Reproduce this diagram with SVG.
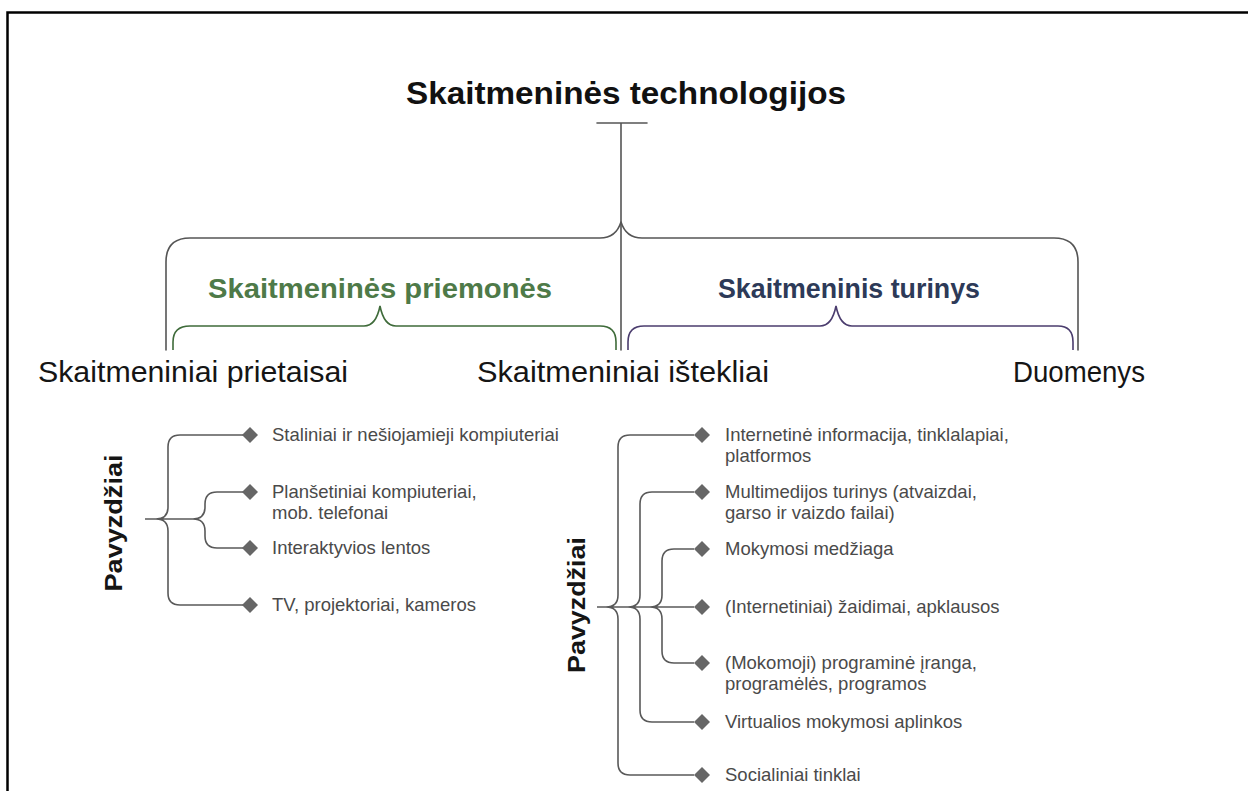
<svg xmlns="http://www.w3.org/2000/svg" width="1248" height="791" viewBox="0 0 1248 791">
  <style>
    .frame { stroke: #000; stroke-width: 2.5; fill: none; }
    .brace { fill: none; stroke: #555; stroke-width: 1.6; stroke-linecap: round; stroke-linejoin: round; }
    .brace-green { fill: none; stroke: #3f6b3a; stroke-width: 1.6; }
    .brace-purple { fill: none; stroke: #4b3d6e; stroke-width: 1.6; }
    .branch { fill: none; stroke: #595959; stroke-width: 1.6; }
    .dot { fill: #666; }
    .title { font-family: "Liberation Sans", Arial, sans-serif; font-weight: bold; font-size: 32px; fill: #111; }
    .group { font-family: "Liberation Sans", Arial, sans-serif; font-weight: bold; font-size: 28px; }
    .label { font-family: "Liberation Sans", Arial, sans-serif; font-size: 30px; fill: #151515; }
    .side { font-family: "Liberation Sans", Arial, sans-serif; font-weight: bold; font-size: 24px; fill: #151515; }
    .item { font-family: "Liberation Sans", Arial, sans-serif; font-size: 18.5px; fill: #4a4a4a; }
  </style>

  <rect x="0" y="0" width="1248" height="791" fill="#fff"/>
  <path class="frame" d="M7.5 791 V12.5 H1248"/>

  <!-- headings -->
  <g id="root">
    <text class="title" x="626" y="104" text-anchor="middle" textLength="440" lengthAdjust="spacingAndGlyphs">Skaitmeninės technologijos</text>
  </g>
  <g id="priemones">
    <text class="group" x="380" y="298" text-anchor="middle" fill="#4e7a48" textLength="344" lengthAdjust="spacingAndGlyphs">Skaitmeninės priemonės</text>
  </g>
  <g id="turinys">
    <text class="group" x="849" y="298" text-anchor="middle" fill="#2d3a58" textLength="262" lengthAdjust="spacingAndGlyphs">Skaitmeninis turinys</text>
  </g>
  <g id="prietaisai">
    <text class="label" x="38" y="382" textLength="310" lengthAdjust="spacingAndGlyphs">Skaitmeniniai prietaisai</text>
  </g>
  <g id="istekliai">
    <text class="label" x="477" y="382" textLength="292" lengthAdjust="spacingAndGlyphs">Skaitmeniniai ištekliai</text>
  </g>
  <g id="duomenys">
    <text class="label" x="1013" y="382" textLength="132" lengthAdjust="spacingAndGlyphs">Duomenys</text>
  </g>

  <!-- connectors -->
  <g id="connectors">
    <path class="brace" d="M597 123 H647 M621 123 V350"/>
    <path class="brace" d="M166 350 V262 Q166 238 190 238 H600 Q616 238 621 222 Q626 238 642 238 H1054 Q1078 238 1078 262 V350"/>
    <path class="brace-green" d="M173 350 V342 Q173 326 190 326 H364 Q376 326 380 306 Q384 326 396 326 H600 Q616 326 616 342 V350"/>
    <path class="brace-purple" d="M628 350 V342 Q628 326 644 326 H820 Q832 326 836 306 Q840 326 852 326 H1058 Q1073 326 1073 342 V350"/>

    <!-- device examples -->
    <path class="branch" d="M145 519 H193
      M156 519 Q168 519 168 507 V447 Q168 435 180 435 H244
      M156 519 Q168 519 168 531 V593 Q168 605 180 605 H244
      M193 519 Q205 519 205 507 V504 Q205 492 217 492 H244
      M193 519 Q205 519 205 531 V536 Q205 548 217 548 H244"/>

    <!-- resource examples -->
    <path class="branch" d="M597 607 H694
      M606 607 Q618 607 618 595 V447 Q618 435 630 435 H694
      M606 607 Q618 607 618 619 V763 Q618 775 630 775 H694
      M628 607 Q640 607 640 595 V504 Q640 492 652 492 H694
      M628 607 Q640 607 640 619 V710 Q640 722 652 722 H694
      M650 607 Q662 607 662 595 V561 Q662 549 674 549 H694
      M650 607 Q662 607 662 619 V651 Q662 663 674 663 H694"/>
  </g>

  <!-- device examples -->
  <g id="pavyzdziai-prietaisai">
    <text class="side" transform="translate(122 523) rotate(-90)" text-anchor="middle" textLength="137" lengthAdjust="spacingAndGlyphs">Pavyzdžiai</text>
  </g>
  <g id="p-item1">
    <polygon class="dot" points="242,435 250,427 258,435 250,443"/>
    <text class="item" x="272" y="441">Staliniai ir nešiojamieji kompiuteriai</text>
  </g>
  <g id="p-item2">
    <polygon class="dot" points="242,492 250,484 258,492 250,500"/>
    <text class="item" x="272" y="498">Planšetiniai kompiuteriai,</text>
    <text class="item" x="272" y="519">mob. telefonai</text>
  </g>
  <g id="p-item3">
    <polygon class="dot" points="242,548 250,540 258,548 250,556"/>
    <text class="item" x="272" y="554">Interaktyvios lentos</text>
  </g>
  <g id="p-item4">
    <polygon class="dot" points="242,605 250,597 258,605 250,613"/>
    <text class="item" x="272" y="611">TV, projektoriai, kameros</text>
  </g>

  <!-- resource examples -->
  <g id="pavyzdziai-istekliai">
    <text class="side" transform="translate(585 605) rotate(-90)" text-anchor="middle" textLength="136" lengthAdjust="spacingAndGlyphs">Pavyzdžiai</text>
  </g>
  <g id="i-item1">
    <polygon class="dot" points="694,435 702,427 710,435 702,443"/>
    <text class="item" x="725" y="441">Internetinė informacija, tinklalapiai,</text>
    <text class="item" x="725" y="462">platformos</text>
  </g>
  <g id="i-item2">
    <polygon class="dot" points="694,492 702,484 710,492 702,500"/>
    <text class="item" x="725" y="498">Multimedijos turinys (atvaizdai,</text>
    <text class="item" x="725" y="519">garso ir vaizdo failai)</text>
  </g>
  <g id="i-item3">
    <polygon class="dot" points="694,549 702,541 710,549 702,557"/>
    <text class="item" x="725" y="555">Mokymosi medžiaga</text>
  </g>
  <g id="i-item4">
    <polygon class="dot" points="694,607 702,599 710,607 702,615"/>
    <text class="item" x="725" y="613">(Internetiniai) žaidimai, apklausos</text>
  </g>
  <g id="i-item5">
    <polygon class="dot" points="694,663 702,655 710,663 702,671"/>
    <text class="item" x="725" y="669">(Mokomoji) programinė įranga,</text>
    <text class="item" x="725" y="690">programėlės, programos</text>
  </g>
  <g id="i-item6">
    <polygon class="dot" points="694,722 702,714 710,722 702,730"/>
    <text class="item" x="725" y="728">Virtualios mokymosi aplinkos</text>
  </g>
  <g id="i-item7">
    <polygon class="dot" points="694,775 702,767 710,775 702,783"/>
    <text class="item" x="725" y="781">Socialiniai tinklai</text>
  </g>
</svg>
